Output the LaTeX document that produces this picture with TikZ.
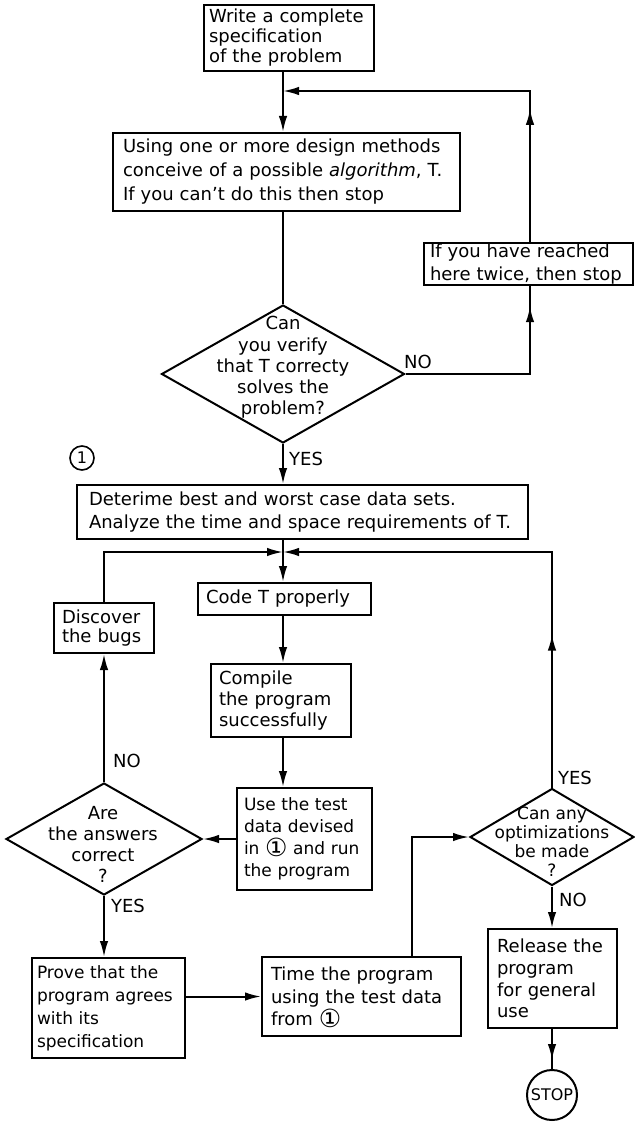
\documentclass[tikz,border=0pt]{standalone}
\usepackage{fontspec}
\setmainfont{DejaVu Sans}
\usetikzlibrary{arrows.meta,shapes.geometric,decorations.markings}
% enlarged circled reference mark used inside running text
\newcommand{\refmark}{\smash{\raisebox{-1.5pt}{\fontsize{25}{25}\selectfont ①}}}
\begin{document}
\begin{tikzpicture}[x=1pt,y=-1pt,
  every node/.style={font=\fontsize{18}{22}\selectfont},
  box/.style={draw, line width=2pt, rectangle, align=left, inner ysep=1pt},
  dia/.style={draw, line width=2pt, diamond, inner sep=0pt},
  lbl/.style={inner sep=0pt},
  plain/.style={line width=2pt},
  flow/.style={plain, -{Latex[length=16pt,width=8.5pt]}},
  tipat/.style={postaction={decorate}, decoration={markings,
      mark=at position #1 with {\arrow{Latex[length=16pt,width=8.5pt]}}}},
]
% page frame
\fill[white] (0,0) rectangle (634,1123);
\useasboundingbox (0,0) rectangle (634,1123);

% guide points for the connector columns
\coordinate (colA) at (283,0);
\coordinate (loopR) at (530,91);
\coordinate (j1) at (283,91);
\coordinate (j2) at (283,552);
\coordinate (riseX) at (412,0);

% process boxes
\node[box, text width=160pt, inner xsep=5pt, minimum height=66pt,
      font=\fontsize{18}{20}\selectfont] (b1) at (289,38)
  {Write a complete\\specification\\of the problem};
\node[box, text width=327pt, inner xsep=10pt, minimum height=78pt,
      font=\fontsize{18}{24}\selectfont] (b2) at (286.5,172)
  {Using one or more design methods\\conceive of a possible \textit{algorithm}, T.\\If you can't do this then stop};
\node[box, text width=197pt, inner xsep=6pt, minimum height=42pt,
      font=\fontsize{18}{23}\selectfont] (b3) at (528.5,264)
  {If you have reached\\here twice, then stop};
\node[box, text width=427pt, inner xsep=12pt, minimum height=54pt,
      font=\fontsize{18}{23}\selectfont] (b4) at (302.5,512)
  {Deterime best and worst case data sets.\\Analyze the time and space requirements of T.};
\node[box, text width=157pt, inner xsep=8pt, minimum height=32pt] (b5) at (284.5,599)
  {Code T properly};
\node[box, text width=124pt, inner xsep=8pt, minimum height=73pt,
      font=\fontsize{18}{21}\selectfont] (b6) at (281,700.5)
  {Compile\\the program\\successfully};
\node[box, text width=84pt, inner xsep=8pt, minimum height=50pt,
      font=\fontsize{18}{19}\selectfont] (disc) at (104,628)
  {Discover\\the bugs};
\node[box, text width=121pt, inner xsep=7pt, minimum height=102pt,
      font=\fontsize{17}{22}\selectfont] (b7) at (304.5,839)
  {Use the test\\data devised\\in \refmark\ and run\\the program};
\node[box, text width=143pt, inner xsep=5pt, minimum height=100pt,
      font=\fontsize{17}{23}\selectfont] (b8) at (108.5,1008)
  {Prove that the\\program agrees\\with its\\specification};
\node[box, text width=181pt, inner xsep=9pt, minimum height=79pt,
      font=\fontsize{18}{22.5}\selectfont] (b9) at (361.5,996.5)
  {Time the program\\using the test data\\from \refmark};
\node[box, text width=111pt, inner xsep=9pt, minimum height=99pt,
      font=\fontsize{18}{21.7}\selectfont] (b10) at (552.5,978.5)
  {Release the\\program\\for general\\use};

% decisions
\node[dia, minimum width=243pt, minimum height=138pt] (d1) at (283,374) {};
\node[align=center, font=\fontsize{18}{21.3}\selectfont] (d1t) at (283,367.5)
  {Can\\you verify\\that T correcty\\solves the\\problem?};
\node[dia, minimum width=196pt, minimum height=112pt] (d2) at (104,839) {};
\node[align=center, font=\fontsize{18}{21}\selectfont] (d2t) at (103,844)
  {Are\\the answers\\correct\\?};
\node[dia, minimum width=164pt, minimum height=97pt] (d3) at (552,837) {};
\node[align=center, font=\fontsize{17}{19}\selectfont] (d3t) at (552,841.5)
  {Can any\\optimizations\\be made\\?};

% terminal and reference mark
\node[circle, draw, line width=2pt, minimum size=50pt, inner sep=0pt,
      font=\fontsize{16}{16}\selectfont] (stop) at (552,1095) {STOP};
\node[circle, draw, line width=1.6pt, minimum size=24pt, inner sep=0pt,
      font=\fontsize{16}{16}\selectfont] (ref1) at (82,458) {1};

% branch labels
\node[lbl] (no1) at (418,362) {NO};
\node[lbl, anchor=west] (yes1) at (289,459) {YES};
\node[lbl] (no2) at (127,761) {NO};
\node[lbl] (yes2) at (128,906) {YES};
\node[lbl] (yes3) at (575,778) {YES};
\node[lbl] (no3) at (573,900) {NO};

% connectors
\draw[flow] (b1.south -| colA) -- (b2.north -| colA);
\draw[plain] (b2.south -| colA) -- (d1.north);
\draw[plain, tipat=-20pt] (d1.east) -| (b3.south -| loopR);
\draw[flow, tipat=133pt] (b3.north -| loopR) |- (j1);
\draw[flow] (d1.south) -- (b4.north -| d1.south);
\draw[flow] (b4.south -| colA) -- (b5.north -| colA);
\draw[flow] (d2.north) -- (disc.south);
\draw[flow] (disc.north) |- (j2);
\draw[flow, tipat=153pt] (d3.north) |- (j2);
\draw[flow] (b5.south -| colA) -- (b6.north -| colA);
\draw[flow] (b6.south -| colA) -- (b7.north -| colA);
\draw[flow] (b7.west) -- (d2.east);
\draw[flow] (d2.south) -- (b8.north -| d2.south);
\draw[flow] (b8.east |- b9.west) -- (b9.west);
\draw[flow] (b9.north -| riseX) |- (d3.west);
\draw[flow] (d3.south) -- (b10.north -| d3.south);
\draw[plain, tipat=-9pt] (b10.south -| stop.north) -- (stop.north);
\end{tikzpicture}
\end{document}
